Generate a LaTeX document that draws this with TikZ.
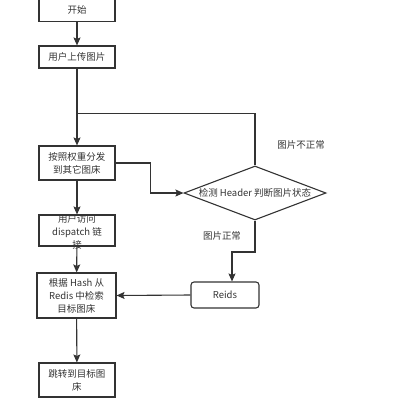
\documentclass[tikz,border=0pt]{standalone}
\usepackage{fontspec}
\setmainfont{Noto Sans CJK SC}
\usetikzlibrary{arrows.meta,shapes.geometric}
\definecolor{ln}{HTML}{333333}
\begin{document}
\begin{tikzpicture}[x=1pt,y=-1pt,
  every node/.style={font=\fontsize{9.5}{13}\selectfont,text=ln},
  box/.style={draw=ln,line width=1.1pt,rectangle,inner sep=0pt,minimum width=76pt,align=center},
  lbl/.style={inner sep=0pt,align=center},
  arr/.style={draw=ln,line width=1.1pt,-{Stealth[length=8pt,width=7pt,inset=1.5pt]}},
  ln/.style={draw=ln,line width=1.1pt}]
\useasboundingbox (0,0) rectangle (408,408);
\node[box,minimum height=23pt] (b1) at (77,10) {\raisebox{-2pt}{开始}};
\node[box,minimum height=22pt] (b2) at (77,57) {用户上传图片};
\node[box,minimum height=34pt] (b3) at (77,163) {按照权重分发\\到其它图床};
\node[box,minimum height=31pt] (b4) at (77,230.5) {};
\node[lbl] (b4t) at (77,232) {用户访问\\dispatch 链\\接};
\node[box,minimum width=79pt,minimum height=45pt] (b5) at (76.5,295.5) {根据 Hash 从\\Redis 中检索\\目标图床};
\node[box,minimum height=34pt] (b6) at (77,380) {跳转到目标图\\床};
\node[draw=ln,line width=1.1pt,diamond,inner sep=0pt,minimum width=142pt,minimum height=54pt] (d) at (255,193) {};
\node[lbl] (dt) at (255,193) {检测 Header 判断图片状态};
\node[box,rounded corners=3pt,minimum width=68pt,minimum height=26pt] (r) at (225,295) {Reids};
\node[lbl] (l1) at (301,145) {图片不正常};
\node[lbl] (l2) at (222,236) {图片正常};
\coordinate (j) at (77,113.5);
\coordinate (k) at (232,252);
\draw[arr] (b1) -- (b2);
\draw[arr] (b2) -- (b3);
\draw[ln] (d.north) |- (j);
\draw[arr] (b3.east) -- ++(35,0) |- (d.west);
\draw[arr] (b3) -- (b4);
\draw[arr] (b4) -- (b5);
\draw[arr] (d.south) |- (k) -- (k |- r.north);
\draw[arr] (r.west) -- (b5.east);
\draw[arr] (b5) -- (b6);
\end{tikzpicture}
\end{document}
